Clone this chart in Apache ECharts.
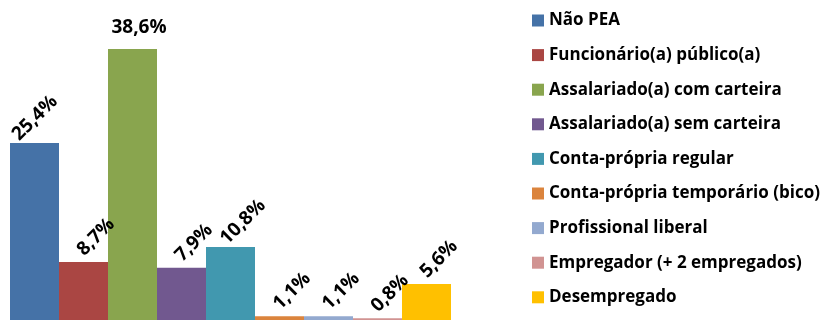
<!DOCTYPE html>
<html>
<head>
<meta charset="utf-8">
<script src="https://cdn.jsdelivr.net/npm/echarts@6/dist/echarts.min.js"></script>
<style>
  html, body { margin: 0; padding: 0; background: #fff; }
  #chart { width: 824px; height: 320px; }
</style>
</head>
<body>
<div id="chart"></div>
<script>
// categorias e percentuais
const categories = [
  'Não PEA',
  'Funcionário(a) público(a)',
  'Assalariado(a) com carteira',
  'Assalariado(a) sem carteira',
  'Conta-própria regular',
  'Conta-própria temporário (bico)',
  'Profissional liberal',
  'Empregador (+ 2 empregados)',
  'Desempregado'
];
const values = [25.4, 8.7, 38.6, 7.9, 10.8, 1.1, 1.1, 0.8, 5.6];
const colors = ['#4572A7', '#AA4643', '#89A54E', '#71588F', '#4198AF',
                '#DB843D', '#93A9CF', '#D19392', '#FFC000'];

const fontFam = '"Open Sans", sans-serif';

function labelFor(i) {
  // o maior valor fica na horizontal, os outros inclinados a 45 graus
  if (i === 2) {
    return { show: true, position: [31, -21], rotate: 0, align: 'center', verticalAlign: 'middle' };
  }
  return { show: true, position: [i === 0 ? 25 : 37, -25], rotate: 45, align: 'center', verticalAlign: 'middle' };
}

const series = categories.map((name, i) => ({
  name: name,
  type: 'bar',
  stack: 'total',
  barWidth: '100%',
  itemStyle: { color: colors[i] },
  label: Object.assign({
    fontFamily: fontFam,
    fontWeight: 'bold',
    fontSize: 19,
    color: '#000',
    formatter: p => String(p.value).replace('.', ',') + '%'
  }, labelFor(i)),
  data: values.map((v, j) => (j === i ? v : '-'))
}));

const chart = echarts.init(document.getElementById('chart'));
chart.setOption({
  animation: false,
  // o eixo original fica um pouco abaixo da borda da imagem
  grid: { left: 10, width: 441, top: 39, bottom: 0, containLabel: false },
  xAxis: {
    type: 'category',
    data: categories,
    show: false
  },
  yAxis: {
    type: 'value',
    min: 0.56,
    max: 40,
    show: false
  },
  legend: {
    orient: 'vertical',
    left: 532,
    top: 12,
    padding: 0,
    icon: 'rect',
    itemWidth: 12,
    itemHeight: 12,
    itemGap: 17.6,
    textStyle: {
      fontFamily: fontFam,
      fontWeight: 'bold',
      fontSize: 17,
      lineHeight: 17,
      color: '#000'
    },
    data: categories
  },
  series: series
});
</script>
</body>
</html>
